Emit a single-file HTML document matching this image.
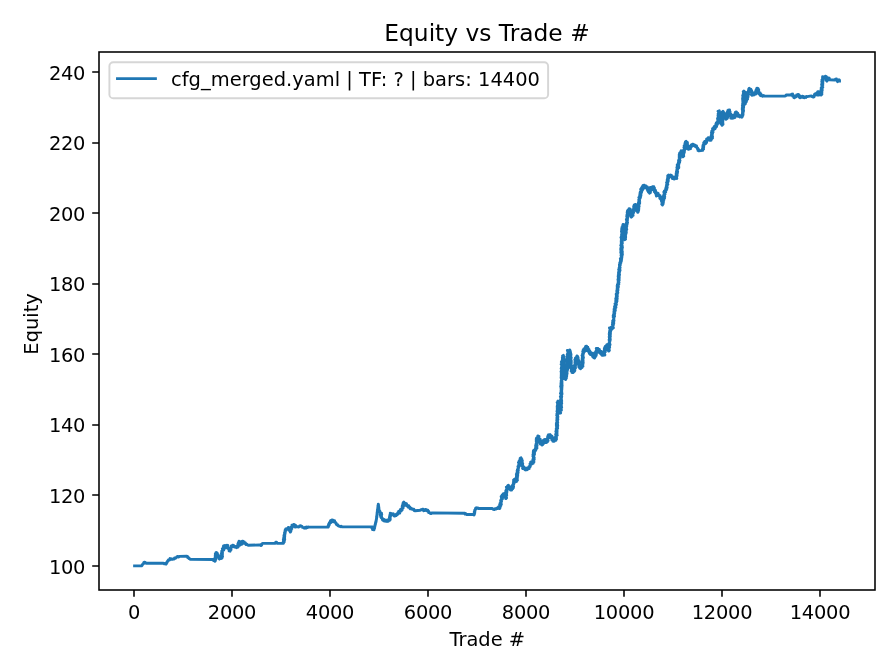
<!DOCTYPE html>
<html lang="en"><head><meta charset="utf-8"><title>Equity vs Trade #</title>
<style>html,body{margin:0;padding:0;background:#fff;}body{width:896px;height:672px;overflow:hidden;}svg{display:block;}text{font-family:"DejaVu Sans","Liberation Sans",sans-serif;fill:#000;}</style></head><body>
<svg width="896" height="672" viewBox="0 0 896 672">
<rect x="0" y="0" width="896" height="672" fill="#ffffff"/>
<path d="M134.6,565.9 L141.4,565.9 L142.1,565.5 L142.3,564.6 L143.0,564.2 L143.6,563.7 L143.7,562.8 L144.2,562.2 L145.2,562.5 L146.2,563.2 L163.4,563.2 L164.2,563.8 L165.2,563.5 L166.0,564.1 L166.5,563.5 L166.5,562.7 L167.2,562.2 L167.2,561.4 L168.0,560.9 L168.2,560.2 L168.8,559.6 L169.7,559.9 L170.0,558.6 L170.9,558.8 L171.6,559.3 L172.5,559.4 L173.1,558.9 L174.1,559.0 L174.5,558.0 L175.6,558.3 L176.2,557.7 L176.8,556.8 L177.8,556.4 L178.6,556.9 L179.4,556.4 L186.9,556.2 L187.6,556.6 L187.7,557.6 L188.7,557.6 L188.9,558.5 L189.7,558.7 L190.1,559.4 L213.4,559.5 L213.4,560.6 L215.4,559.9 L215.0,561.3 L215.4,560.6 L214.7,559.8 L215.8,559.2 L214.9,558.3 L215.9,557.7 L215.2,556.9 L215.8,556.2 L215.3,555.4 L216.3,554.8 L215.4,553.9 L216.3,553.3 L216.0,552.5 L217.1,552.8 L216.0,554.2 L217.6,554.2 L216.4,555.7 L218.5,555.4 L217.5,556.8 L219.1,556.8 L218.7,557.9 L219.4,559.1 L220.8,556.8 L221.4,558.4 L222.1,557.8 L221.2,556.9 L222.5,556.3 L221.5,555.4 L222.4,554.8 L221.3,553.9 L222.4,553.4 L221.7,552.5 L222.6,551.9 L221.8,551.0 L222.5,550.4 L223.7,550.1 L222.4,548.7 L224.3,548.7 L223.2,547.4 L224.8,547.2 L223.6,545.9 L224.6,545.5 L224.7,546.8 L226.3,545.2 L225.9,547.7 L227.8,545.4 L227.8,547.1 L227.7,548.1 L229.2,548.1 L228.7,549.3 L230.0,549.5 L229.2,550.9 L230.2,551.2 L229.8,550.3 L231.0,549.7 L230.4,548.7 L231.2,548.0 L231.0,547.1 L231.3,546.0 L232.5,546.6 L232.7,545.3 L233.7,545.5 L233.8,546.6 L234.8,547.1 L235.6,546.6 L236.4,547.6 L237.2,546.0 L238.0,547.1 L238.4,546.4 L237.9,545.6 L238.8,545.0 L237.9,544.1 L238.9,543.5 L238.4,542.6 L239.4,542.1 L239.1,541.2 L240.2,541.8 L238.6,543.0 L240.6,543.3 L239.4,544.4 L240.1,545.0 L239.8,543.9 L241.7,544.2 L240.4,542.3 L243.1,543.3 L241.9,541.5 L242.8,541.2 L243.0,542.1 L244.2,542.0 L244.1,543.2 L245.4,542.9 L245.5,543.9 L246.0,544.5 L247.0,544.3 L247.5,545.0 L248.2,545.2 L259.4,545.0 L260.3,545.0 L261.0,545.5 L261.7,545.0 L261.8,543.9 L262.6,543.4 L274.4,543.2 L275.3,543.3 L275.7,542.3 L276.6,542.3 L276.9,543.1 L277.6,543.4 L283.5,543.2 L283.1,542.4 L284.2,541.8 L283.5,541.0 L284.5,540.4 L283.4,539.6 L284.7,539.0 L283.6,538.1 L284.6,537.6 L284.0,536.7 L284.7,536.1 L284.0,535.3 L284.9,534.7 L284.5,533.9 L285.1,533.3 L284.6,532.5 L285.4,531.9 L285.1,531.1 L285.1,530.2 L286.3,530.2 L285.8,528.9 L286.8,528.7 L287.8,529.1 L288.3,527.4 L289.4,528.1 L289.3,529.0 L290.5,529.5 L289.4,530.6 L290.4,531.2 L290.3,532.1 L290.8,531.4 L290.3,530.5 L291.2,529.9 L290.8,529.0 L291.8,528.5 L290.7,527.4 L291.6,526.8 L292.7,526.7 L292.0,525.1 L293.5,525.3 L293.7,524.4 L294.5,524.6 L294.4,525.8 L295.7,525.5 L295.2,527.0 L296.4,526.8 L297.3,526.6 L298.2,527.0 L299.1,526.8 L299.6,525.9 L300.7,525.7 L301.2,526.4 L302.1,526.5 L302.5,527.4 L303.4,527.4 L304.0,528.0 L304.8,528.2 L305.3,527.3 L306.2,528.0 L306.7,527.1 L307.5,527.6 L308.2,527.0 L308.9,527.1 L328.1,527.1 L328.5,526.5 L328.2,525.6 L329.1,525.2 L328.6,524.2 L329.5,523.8 L329.3,522.9 L329.8,522.3 L330.9,522.6 L330.5,520.7 L332.2,521.8 L331.9,519.9 L333.0,520.2 L333.0,521.3 L334.6,520.7 L334.3,522.1 L335.1,522.3 L336.0,522.8 L336.2,523.9 L336.7,524.7 L337.7,524.8 L338.1,525.7 L338.9,526.1 L339.8,526.1 L340.4,526.7 L341.4,526.3 L342.1,526.9 L372.6,526.9 L371.9,528.1 L374.0,528.0 L372.6,529.6 L374.0,529.8 L374.0,529.0 L374.5,528.4 L374.4,527.6 L374.8,526.9 L374.8,526.1 L375.1,525.4 L375.1,524.7 L375.5,524.0 L375.4,523.2 L375.9,522.5 L375.8,521.8 L376.2,521.1 L376.1,520.3 L376.4,519.6 L376.5,518.9 L376.5,518.2 L376.8,517.5 L376.6,516.8 L377.0,516.1 L376.8,515.4 L377.1,514.7 L377.0,513.9 L377.3,513.3 L377.1,512.5 L377.5,511.9 L377.3,511.1 L377.6,510.5 L377.5,509.7 L377.8,509.0 L377.7,508.3 L377.9,507.6 L377.9,506.9 L378.2,506.2 L378.0,505.5 L378.3,504.8 L378.3,504.1 L378.5,504.8 L378.3,505.6 L378.7,506.3 L378.6,507.1 L378.9,507.8 L378.8,508.6 L379.1,509.3 L378.9,510.1 L379.2,510.8 L379.9,511.3 L380.0,512.1 L380.6,512.6 L381.5,513.2 L380.3,514.2 L381.7,514.7 L380.4,515.7 L381.5,516.3 L380.9,517.1 L381.4,517.8 L382.4,518.3 L382.3,519.4 L382.8,520.2 L384.1,519.5 L384.3,521.0 L385.5,520.3 L386.0,521.2 L386.9,521.4 L387.3,519.9 L388.4,521.1 L388.8,519.8 L389.8,520.2 L390.2,519.5 L389.4,518.8 L390.2,518.1 L389.5,517.4 L390.4,516.7 L389.7,516.0 L390.5,515.3 L390.0,514.6 L390.6,513.9 L390.3,513.2 L391.0,513.9 L391.8,513.7 L392.2,514.8 L393.3,513.8 L393.6,515.0 L394.2,516.1 L395.0,516.0 L395.2,515.0 L396.3,515.5 L396.4,514.2 L397.5,514.6 L397.9,513.9 L397.8,512.7 L399.7,513.2 L398.7,511.2 L400.1,511.2 L401.0,511.1 L400.5,509.5 L402.1,510.1 L402.2,509.1 L402.0,508.3 L403.1,507.8 L402.2,506.9 L403.3,506.4 L402.4,505.5 L403.8,505.0 L402.9,504.1 L404.0,503.6 L403.2,502.7 L403.8,502.1 L403.6,503.1 L405.3,503.2 L404.9,504.3 L405.4,505.3 L406.5,503.8 L407.0,504.8 L407.1,505.8 L408.7,505.6 L408.1,507.1 L409.7,506.9 L409.7,508.0 L410.3,508.8 L411.4,508.3 L412.0,509.2 L412.9,509.1 L413.9,509.3 L414.1,510.5 L415.1,510.7 L420.4,510.2 L421.0,509.7 L421.8,509.8 L422.3,509.1 L423.1,509.1 L423.2,509.9 L423.6,510.7 L424.2,510.1 L425.0,510.4 L425.4,509.4 L426.3,509.6 L426.5,510.5 L427.8,510.3 L427.8,511.4 L428.8,511.4 L428.7,512.6 L429.7,512.7 L430.1,513.4 L431.0,513.6 L431.7,512.9 L463.8,513.2 L464.7,513.1 L465.1,514.1 L466.0,513.8 L466.5,514.5 L472.9,514.5 L474.0,515.0 L474.4,514.3 L474.1,513.4 L474.8,512.8 L474.3,511.8 L474.9,511.2 L474.7,510.3 L475.1,509.6 L475.8,509.2 L475.6,508.2 L476.3,507.8 L476.9,508.3 L477.8,507.9 L478.4,508.5 L492.4,508.5 L493.4,509.4 L494.3,509.6 L494.9,508.8 L495.8,509.1 L496.4,508.2 L497.2,508.3 L498.1,508.5 L498.4,507.0 L499.8,508.5 L500.1,507.2 L499.7,506.4 L500.7,505.8 L499.7,504.8 L501.3,504.3 L500.0,503.3 L501.2,502.8 L500.7,501.9 L501.5,501.2 L500.7,500.3 L501.5,499.7 L502.3,499.1 L501.4,498.1 L502.8,497.7 L501.2,496.5 L503.5,496.3 L502.1,495.1 L503.4,494.7 L503.1,493.8 L504.7,493.3 L503.4,495.7 L504.7,495.4 L505.9,495.9 L504.8,497.1 L505.9,497.7 L505.8,498.6 L506.5,497.9 L505.4,497.1 L506.3,496.4 L505.3,495.6 L506.7,495.0 L505.5,494.1 L506.6,493.5 L505.7,492.6 L506.8,492.0 L505.8,491.1 L507.1,490.5 L506.3,489.7 L506.8,489.0 L507.9,488.6 L506.4,487.1 L508.3,487.0 L507.6,485.8 L508.4,485.2 L508.0,486.3 L509.6,486.5 L508.9,487.7 L510.1,488.1 L510.0,489.0 L510.5,490.0 L511.6,490.1 L511.3,489.3 L512.6,488.9 L511.6,487.9 L513.4,487.7 L512.0,486.5 L513.6,486.3 L512.5,485.2 L513.2,484.7 L513.8,484.0 L513.3,483.1 L514.1,482.5 L513.6,481.6 L514.6,481.0 L513.6,480.0 L514.3,479.4 L514.4,480.4 L516.1,479.7 L514.9,482.1 L516.5,481.5 L516.3,480.7 L517.4,480.1 L516.2,479.2 L517.3,478.6 L516.2,477.7 L517.4,477.1 L516.5,476.3 L517.7,475.7 L516.4,474.8 L517.7,474.2 L516.6,473.3 L518.1,472.7 L517.5,471.9 L517.1,471.0 L518.3,470.5 L517.5,469.6 L518.4,469.0 L518.0,468.1 L518.7,467.5 L518.0,466.5 L519.2,466.0 L518.6,465.1 L519.1,464.4 L519.7,463.8 L518.5,462.6 L520.8,462.6 L519.1,461.2 L520.8,461.0 L519.9,459.9 L521.2,459.5 L520.2,458.4 L521.1,457.9 L520.9,458.7 L521.8,459.3 L521.0,460.1 L522.3,460.7 L520.9,461.6 L522.3,462.1 L521.5,463.0 L522.7,463.5 L521.7,464.4 L522.6,465.0 L522.0,465.8 L522.4,466.5 L523.7,466.6 L522.6,468.5 L524.8,467.9 L524.5,469.2 L525.3,469.9 L526.1,468.1 L526.9,469.7 L527.7,469.2 L527.7,468.1 L529.2,468.5 L528.7,466.9 L529.9,467.0 L530.3,466.2 L529.9,465.4 L530.7,464.7 L530.1,463.7 L531.1,463.1 L530.7,462.2 L532.0,461.6 L531.7,464.1 L533.1,463.3 L532.5,462.5 L533.9,461.9 L532.5,461.1 L533.8,460.5 L532.9,459.7 L534.2,459.1 L533.2,458.3 L534.2,457.7 L533.6,456.9 L533.0,456.2 L534.0,455.5 L533.0,454.7 L534.5,454.2 L533.3,453.4 L534.6,452.7 L533.3,452.0 L534.3,451.3 L533.5,450.6 L534.1,449.9 L535.4,450.7 L536.1,449.4 L535.5,448.6 L536.9,448.0 L535.6,447.1 L536.9,446.5 L535.7,445.6 L537.1,445.0 L535.9,444.2 L537.0,443.5 L536.4,442.7 L537.0,442.1 L536.3,441.2 L537.2,440.6 L536.2,439.8 L537.5,439.1 L536.4,438.3 L537.1,437.6 L538.3,437.2 L537.9,436.0 L539.0,436.3 L537.7,437.7 L539.1,437.9 L538.0,439.1 L540.2,439.1 L538.8,440.4 L539.8,440.8 L540.9,441.1 L539.7,442.7 L541.3,442.8 L540.4,444.1 L542.2,444.1 L542.0,445.1 L542.7,444.6 L542.0,443.5 L543.7,443.4 L542.5,442.2 L544.2,442.1 L542.5,440.6 L544.6,440.7 L544.1,439.7 L545.3,439.4 L544.8,441.4 L546.7,440.0 L545.9,442.6 L547.3,441.9 L546.9,441.1 L548.1,440.6 L547.4,439.8 L548.0,439.1 L547.5,438.3 L548.6,437.8 L547.7,436.9 L548.7,436.4 L548.0,435.6 L548.4,434.9 L549.0,435.5 L550.0,434.6 L550.5,435.4 L550.0,436.5 L552.0,436.3 L550.6,437.7 L552.3,437.7 L552.1,438.6 L551.8,439.9 L554.0,439.3 L553.0,441.3 L554.3,441.3 L554.2,440.4 L555.9,440.4 L554.7,439.0 L556.6,439.0 L554.7,437.4 L556.5,437.3 L556.4,436.5 L555.9,435.8 L557.2,435.1 L555.7,434.3 L557.0,433.7 L556.2,433.0 L557.0,432.3 L555.9,431.5 L557.1,430.9 L556.2,430.1 L557.1,429.5 L556.3,428.7 L557.6,428.1 L556.6,427.3 L557.6,426.7 L556.4,425.9 L557.7,425.3 L556.4,424.5 L557.5,423.9 L556.4,423.1 L557.7,422.5 L556.9,421.7 L557.5,421.0 L556.8,420.3 L557.8,419.6 L556.9,418.9 L557.7,418.2 L557.0,417.5 L557.9,416.8 L557.5,416.1 L556.8,415.4 L557.8,414.7 L556.9,413.9 L558.3,413.3 L557.3,412.5 L558.4,411.8 L557.0,411.1 L558.4,410.4 L557.3,409.7 L558.2,409.0 L557.3,408.2 L558.6,407.6 L557.2,406.8 L558.3,406.1 L557.4,405.4 L558.3,404.7 L557.6,403.9 L558.2,403.3 L557.2,402.5 L558.4,401.8 L558.0,401.1 L558.8,401.8 L557.8,402.6 L558.6,403.3 L557.7,404.1 L558.7,404.8 L558.0,405.6 L559.3,406.2 L557.8,407.1 L559.3,407.7 L558.1,408.5 L559.5,409.1 L558.1,410.0 L559.4,410.6 L558.3,411.5 L559.3,412.1 L559.1,412.9 L560.7,413.0 L559.4,410.9 L560.7,410.8 L561.4,410.1 L560.1,409.4 L561.2,408.7 L560.5,408.0 L561.6,407.3 L560.5,406.6 L561.4,405.9 L560.5,405.2 L561.3,404.5 L560.3,403.8 L561.7,403.1 L560.6,402.4 L561.6,401.7 L560.6,401.0 L561.6,400.3 L560.6,399.6 L561.4,398.9 L560.8,398.2 L561.5,397.5 L560.4,396.8 L561.7,396.1 L560.9,395.4 L561.2,394.7 L562.0,394.0 L560.5,393.3 L561.8,392.6 L561.0,391.9 L561.7,391.2 L561.1,390.5 L561.8,389.8 L561.1,389.1 L561.8,388.4 L561.0,387.7 L562.0,387.0 L560.7,386.3 L562.1,385.6 L561.0,384.9 L562.0,384.2 L561.0,383.5 L562.0,382.8 L561.1,382.1 L561.9,381.4 L561.2,380.7 L561.6,380.0 L562.4,379.3 L561.3,378.6 L562.2,377.9 L561.1,377.1 L562.4,376.5 L561.3,375.7 L562.1,375.0 L561.3,374.3 L562.2,373.6 L561.3,372.9 L562.6,372.2 L561.1,371.4 L562.5,370.8 L561.6,370.0 L562.1,369.3 L561.2,368.6 L562.6,367.9 L561.4,367.2 L562.5,366.5 L561.7,365.7 L562.4,365.0 L561.2,364.3 L562.7,363.6 L562.0,362.9 L561.4,362.0 L563.1,361.5 L562.0,360.6 L562.9,360.0 L562.4,359.1 L563.4,358.5 L562.4,357.5 L563.9,357.0 L562.6,356.0 L563.4,355.4 L562.8,356.2 L564.2,356.8 L563.0,357.6 L564.1,358.3 L563.3,359.1 L564.3,359.7 L563.3,360.5 L564.5,361.2 L563.2,362.0 L564.3,362.7 L563.6,363.5 L564.3,364.2 L563.4,364.9 L564.6,365.6 L563.7,366.4 L564.1,367.1 L564.5,367.8 L563.8,368.6 L564.9,369.2 L564.0,370.1 L564.9,370.7 L564.1,371.6 L565.0,372.2 L564.4,373.0 L565.4,373.6 L564.3,374.5 L565.7,375.0 L564.5,375.9 L565.8,376.5 L565.0,377.4 L565.9,378.0 L564.8,378.9 L565.7,379.5 L565.2,378.7 L566.3,378.1 L565.7,377.3 L566.6,376.6 L565.6,375.8 L566.7,375.2 L566.0,374.3 L567.1,373.7 L565.8,372.8 L567.0,372.3 L566.5,371.4 L567.3,370.8 L566.4,370.0 L567.6,369.4 L566.8,368.5 L567.9,367.9 L567.3,367.1 L566.7,366.4 L567.9,365.7 L567.1,364.9 L568.2,364.3 L567.1,363.5 L568.2,362.9 L567.2,362.1 L568.0,361.4 L567.0,360.6 L568.1,360.0 L566.9,359.2 L568.3,358.6 L567.4,357.8 L568.2,357.1 L567.4,356.4 L568.5,355.7 L567.2,354.9 L568.3,354.3 L567.6,353.5 L568.4,352.8 L568.1,352.1 L567.4,350.4 L569.7,351.1 L569.8,350.0 L570.1,350.7 L569.6,351.5 L570.5,352.1 L569.3,352.9 L570.8,353.5 L569.5,354.3 L571.0,354.9 L569.5,355.8 L570.8,356.4 L570.1,357.2 L571.2,357.8 L569.9,358.6 L570.9,359.3 L570.1,360.1 L571.2,360.7 L570.3,361.5 L571.3,362.1 L570.6,362.9 L571.2,363.5 L570.6,364.3 L571.1,365.0 L571.6,365.7 L570.5,366.6 L571.7,367.2 L570.7,368.1 L572.0,368.7 L571.3,369.6 L572.5,370.2 L571.2,371.1 L572.5,371.7 L572.1,372.5 L573.1,372.6 L573.1,370.9 L574.3,371.4 L574.8,370.7 L573.7,369.9 L574.9,369.2 L574.2,368.4 L575.5,367.8 L574.5,367.0 L575.4,366.3 L574.3,365.5 L575.7,364.9 L574.9,364.1 L575.5,363.4 L575.0,362.6 L576.1,362.0 L575.1,361.1 L576.2,360.5 L574.9,359.6 L576.2,359.0 L575.4,358.2 L575.9,357.5 L577.7,357.6 L577.0,355.9 L577.7,356.5 L576.9,357.4 L578.1,357.9 L577.2,358.8 L578.2,359.3 L577.7,360.2 L578.8,360.7 L577.5,361.7 L579.0,362.1 L578.6,362.9 L577.8,364.0 L579.5,364.2 L578.9,365.3 L580.4,365.6 L578.8,366.9 L581.3,366.9 L579.8,368.3 L580.7,368.8 L580.5,367.8 L582.0,367.5 L580.9,366.2 L583.0,366.2 L582.3,365.0 L582.0,364.2 L583.1,363.6 L581.8,362.8 L583.2,362.1 L581.8,361.3 L583.1,360.6 L582.1,359.8 L583.0,359.1 L582.2,358.3 L583.4,357.7 L582.4,356.9 L583.1,356.2 L582.1,355.4 L583.2,354.7 L582.6,353.9 L582.9,353.2 L583.6,352.8 L582.8,351.5 L584.5,351.6 L583.2,350.1 L585.6,350.6 L583.9,348.8 L585.8,349.1 L585.2,347.9 L586.3,347.7 L585.6,346.5 L586.6,346.2 L586.1,347.3 L587.8,347.3 L587.1,348.4 L588.4,348.6 L587.4,349.8 L589.1,349.8 L587.9,351.2 L589.9,351.1 L589.3,352.1 L589.3,353.5 L590.9,352.5 L590.4,354.6 L592.3,353.2 L592.5,354.3 L592.1,355.3 L593.8,355.2 L592.7,356.6 L594.4,356.5 L593.7,357.7 L594.6,358.0 L594.2,357.1 L595.5,356.7 L594.1,355.5 L596.2,355.3 L595.0,354.2 L596.5,353.8 L594.8,352.6 L597.0,352.4 L595.9,351.3 L597.6,351.0 L596.8,350.0 L596.3,348.5 L597.9,348.4 L597.2,350.1 L599.4,349.4 L598.7,351.1 L600.0,351.1 L601.3,351.4 L599.7,353.0 L602.1,352.8 L601.0,354.1 L602.3,354.4 L602.1,355.4 L603.1,355.3 L602.7,353.8 L604.9,354.9 L604.3,353.2 L603.8,352.4 L605.3,351.9 L604.2,351.0 L605.5,350.5 L604.4,349.6 L605.3,349.1 L604.4,348.2 L605.9,347.8 L605.0,346.9 L605.4,346.2 L606.5,347.2 L606.9,344.7 L608.0,345.7 L607.7,346.5 L608.6,347.2 L607.9,348.1 L608.7,348.7 L608.0,349.6 L609.1,350.3 L608.6,351.1 L609.3,350.4 L608.4,349.6 L609.1,348.9 L608.5,348.1 L609.6,347.4 L608.7,346.6 L609.6,345.9 L608.9,345.1 L610.0,344.5 L608.8,343.6 L609.7,342.9 L609.2,342.1 L609.6,341.4 L610.1,340.7 L609.1,339.9 L610.3,339.2 L609.5,338.4 L610.1,337.7 L609.2,336.9 L610.3,336.3 L609.5,335.5 L610.4,334.8 L609.2,334.0 L610.4,333.3 L609.5,332.5 L610.5,331.8 L609.6,331.1 L610.9,330.4 L610.2,329.6 L609.5,327.9 L612.0,328.9 L611.3,327.2 L613.4,327.9 L612.9,326.4 L612.6,325.6 L613.3,324.9 L612.4,324.1 L613.7,323.4 L612.6,322.6 L613.8,321.9 L612.7,321.0 L614.0,320.4 L613.3,319.6 L613.9,318.9 L613.8,318.1 L613.3,317.3 L614.5,316.6 L613.2,315.8 L614.4,315.1 L613.6,314.3 L614.7,313.6 L614.3,312.8 L613.9,312.0 L614.9,311.5 L614.2,310.7 L615.3,310.1 L614.1,309.2 L615.3,308.7 L614.6,307.9 L615.9,307.4 L614.6,306.4 L615.8,305.9 L615.2,305.1 L616.4,304.6 L615.0,303.7 L615.9,303.1 L616.5,302.4 L615.8,301.6 L616.9,301.0 L615.8,300.1 L617.1,299.5 L615.8,298.6 L617.2,298.0 L616.2,297.2 L617.3,296.5 L616.4,295.7 L617.3,295.0 L616.2,294.2 L617.0,293.5 L617.8,292.8 L616.8,292.0 L617.6,291.3 L616.9,290.5 L618.0,289.9 L617.1,289.0 L617.9,288.4 L617.3,287.6 L618.4,286.9 L617.1,286.0 L618.2,285.4 L617.5,284.6 L618.8,284.0 L618.0,283.1 L619.0,282.5 L618.4,281.7 L618.1,281.0 L619.1,280.3 L618.0,279.5 L619.2,278.9 L618.3,278.1 L619.2,277.5 L618.2,276.7 L619.3,276.0 L618.3,275.2 L619.5,274.6 L618.5,273.8 L619.3,273.1 L618.6,272.4 L619.7,271.7 L618.9,271.0 L620.0,270.3 L618.7,269.5 L619.9,268.9 L619.1,268.1 L620.1,267.5 L619.6,266.7 L619.4,265.9 L620.2,265.3 L619.5,264.5 L620.4,263.9 L619.8,263.0 L620.9,262.5 L620.3,261.7 L621.3,261.1 L620.5,260.2 L621.6,259.7 L620.4,258.7 L621.7,258.2 L621.1,257.4 L622.0,256.8 L621.6,256.0 L621.1,255.3 L622.4,254.6 L621.3,253.9 L622.3,253.2 L620.8,252.5 L622.3,251.7 L620.9,251.0 L622.0,250.3 L620.8,249.6 L622.1,248.9 L620.8,248.2 L622.4,247.5 L621.3,246.8 L622.3,246.1 L620.8,245.4 L621.9,244.7 L621.2,244.0 L622.3,243.2 L621.3,242.5 L622.3,241.8 L621.2,241.1 L622.3,240.4 L621.6,239.7 L621.3,238.9 L622.2,238.3 L621.0,237.4 L622.2,236.8 L621.5,236.0 L622.5,235.4 L621.6,234.5 L622.3,233.9 L621.8,233.1 L622.5,232.4 L621.5,231.6 L622.9,231.0 L621.6,230.1 L622.8,229.5 L621.8,228.7 L622.8,228.0 L622.0,227.2 L623.2,226.6 L622.7,225.8 L623.0,224.5 L624.3,224.7 L623.6,225.4 L624.9,226.1 L623.8,226.9 L625.1,227.5 L624.1,228.3 L625.2,229.0 L623.9,229.7 L625.0,230.4 L623.8,231.2 L624.9,231.8 L623.8,232.6 L625.2,233.3 L624.2,234.0 L625.3,234.7 L624.2,235.4 L625.0,236.1 L624.0,236.9 L625.0,237.5 L624.1,238.3 L625.2,239.0 L624.8,239.7 L625.5,239.1 L624.2,238.2 L625.6,237.7 L624.5,236.8 L625.6,236.3 L625.1,235.5 L625.7,234.8 L625.1,234.1 L626.1,233.5 L625.2,232.6 L626.3,232.1 L625.1,231.2 L626.2,230.6 L625.6,229.9 L626.7,229.3 L625.9,228.5 L626.5,227.8 L625.9,227.0 L626.7,226.4 L626.0,225.6 L626.9,225.0 L626.1,224.2 L627.3,223.7 L626.5,222.9 L627.5,222.3 L627.0,221.5 L626.6,220.8 L627.4,220.1 L626.4,219.3 L627.6,218.7 L627.0,218.0 L627.7,217.3 L626.8,216.5 L628.2,215.9 L626.9,215.1 L628.1,214.5 L627.3,213.7 L628.0,213.1 L627.2,212.3 L628.4,211.7 L627.5,210.9 L628.0,210.2 L629.3,211.0 L629.0,208.7 L630.2,209.2 L629.5,210.0 L631.0,210.6 L630.1,211.4 L631.3,212.0 L630.4,212.9 L631.3,213.5 L630.4,214.4 L631.3,215.0 L630.8,215.8 L631.8,216.4 L631.2,217.2 L631.9,216.6 L630.9,215.5 L633.1,215.4 L631.7,214.2 L633.0,213.8 L631.9,212.7 L633.7,212.5 L632.3,211.2 L633.4,210.8 L634.6,210.4 L633.4,209.2 L634.7,208.9 L633.7,207.8 L635.0,207.4 L633.7,206.2 L636.0,206.1 L634.3,204.8 L635.5,204.4 L635.3,205.2 L636.9,205.6 L635.1,206.8 L637.0,207.1 L635.5,208.3 L637.4,208.6 L636.4,209.6 L637.5,210.1 L636.8,211.1 L637.9,211.6 L637.7,212.4 L638.2,211.7 L637.2,210.9 L638.6,210.4 L637.3,209.5 L638.8,208.9 L637.8,208.1 L638.8,207.5 L637.9,206.7 L639.1,206.1 L638.0,205.3 L639.0,204.7 L638.1,203.9 L639.6,203.3 L638.5,202.5 L639.7,201.9 L638.8,201.1 L639.5,200.5 L638.8,199.7 L639.3,199.0 L640.1,198.4 L638.9,197.4 L640.5,197.0 L639.6,196.0 L640.9,195.6 L639.9,194.6 L640.9,194.1 L640.0,193.1 L641.5,192.7 L640.4,191.7 L641.8,191.3 L641.4,190.4 L640.7,189.2 L642.8,189.5 L641.6,187.9 L643.7,188.3 L642.3,186.6 L644.2,186.9 L643.1,185.4 L644.3,185.2 L644.0,186.6 L646.0,185.9 L645.4,187.6 L647.4,187.0 L647.0,188.4 L647.0,189.3 L648.7,189.2 L647.7,190.7 L648.8,191.0 L648.5,192.0 L650.2,192.0 L649.6,193.2 L650.4,192.6 L649.5,191.6 L650.5,191.1 L649.9,190.2 L651.4,189.9 L650.7,188.9 L650.3,187.5 L652.8,188.3 L652.3,186.8 L653.8,186.7 L652.7,188.4 L654.5,188.1 L653.4,189.8 L654.5,190.0 L655.5,190.4 L654.3,191.7 L656.1,191.9 L655.3,193.0 L656.6,193.3 L656.1,194.3 L656.4,196.0 L658.2,193.4 L658.3,195.7 L659.3,195.4 L660.1,195.7 L659.7,196.9 L660.8,197.0 L659.9,198.4 L662.1,197.8 L660.9,199.5 L662.0,199.6 L662.8,200.3 L661.5,201.2 L662.6,201.9 L662.0,202.7 L662.7,203.4 L661.8,204.3 L662.5,205.0 L662.3,204.2 L663.2,203.7 L662.4,202.8 L663.3,202.3 L662.7,201.5 L663.6,200.9 L662.7,200.0 L663.9,199.5 L663.2,198.7 L664.5,198.2 L663.3,197.3 L664.7,196.8 L663.5,195.9 L664.5,195.3 L663.9,194.5 L665.0,194.0 L664.6,193.2 L663.9,192.1 L665.8,192.1 L664.5,190.8 L665.7,190.5 L666.4,189.9 L665.7,189.0 L666.9,188.6 L666.0,187.7 L667.2,187.2 L666.3,186.3 L667.1,185.7 L666.6,184.9 L667.8,184.4 L667.3,183.6 L666.6,182.8 L667.8,182.2 L667.1,181.4 L668.3,180.8 L667.2,179.9 L668.3,179.4 L667.6,178.5 L668.7,177.9 L667.7,177.0 L668.9,176.5 L667.8,175.6 L668.7,175.0 L669.6,175.8 L670.5,175.0 L671.4,175.4 L670.5,176.8 L672.4,176.6 L672.1,177.7 L672.5,178.5 L673.9,177.1 L673.9,179.0 L674.8,178.8 L674.4,177.2 L676.8,178.5 L676.4,177.1 L675.8,176.3 L677.1,175.6 L676.1,174.8 L677.1,174.1 L676.2,173.3 L677.5,172.7 L676.5,171.8 L677.6,171.2 L676.7,170.3 L677.0,169.6 L677.8,169.0 L676.9,167.9 L678.8,167.7 L677.2,166.3 L678.8,166.0 L677.3,164.7 L678.6,164.3 L679.1,163.6 L678.4,162.7 L679.6,162.1 L678.5,161.1 L680.0,160.6 L678.9,159.6 L679.6,158.9 L680.1,158.2 L679.3,157.4 L680.1,156.8 L679.2,156.0 L680.5,155.4 L679.3,154.6 L680.4,154.0 L679.6,153.2 L680.2,152.5 L681.5,153.3 L681.1,150.8 L682.3,151.4 L682.1,152.2 L683.0,152.9 L681.8,153.8 L683.0,154.4 L682.4,155.3 L683.2,156.0 L682.9,156.8 L683.7,156.2 L682.5,155.2 L683.6,154.7 L683.1,153.9 L683.9,153.3 L683.3,152.4 L684.4,151.9 L683.6,151.0 L684.5,150.4 L683.9,149.6 L685.1,149.1 L684.5,148.2 L684.0,147.4 L685.1,146.9 L684.2,145.9 L685.4,145.5 L684.9,144.6 L686.2,144.2 L685.0,143.2 L686.4,142.8 L685.5,141.8 L686.1,141.2 L685.8,142.1 L687.4,142.4 L686.3,143.5 L687.5,143.9 L686.6,144.9 L687.9,145.3 L687.7,146.1 L687.3,147.1 L689.2,147.4 L687.6,148.8 L688.8,149.3 L688.3,148.1 L690.6,148.7 L689.2,146.8 L691.0,147.1 L690.9,146.1 L691.2,145.0 L692.6,145.9 L692.4,144.1 L693.6,144.5 L693.8,145.6 L695.2,145.2 L695.2,146.5 L696.6,146.1 L696.8,147.1 L696.9,147.9 L697.7,148.2 L697.5,149.2 L698.6,149.4 L698.1,150.5 L698.9,150.9 L702.7,150.4 L702.3,149.6 L703.5,149.0 L702.6,148.2 L703.6,147.6 L702.9,146.7 L703.7,146.1 L703.0,145.3 L703.9,144.7 L703.8,143.9 L703.7,142.8 L705.6,143.7 L704.6,141.5 L706.6,142.6 L706.4,141.3 L706.2,140.4 L707.7,140.2 L706.7,138.9 L708.5,138.9 L708.0,137.8 L709.2,137.8 L708.0,139.8 L710.7,138.7 L710.0,140.3 L711.1,140.3 L710.4,138.3 L711.8,138.7 L712.5,138.0 L711.4,137.2 L712.5,136.5 L711.2,135.7 L712.3,135.0 L711.5,134.2 L712.5,133.5 L711.5,132.7 L713.0,132.0 L711.7,131.2 L712.3,130.5 L713.3,130.4 L712.6,128.7 L713.9,129.0 L715.0,128.8 L713.8,127.3 L715.7,127.6 L714.6,126.1 L716.6,126.5 L716.1,125.3 L715.8,124.2 L717.5,124.4 L716.4,122.7 L718.2,123.0 L718.2,122.1 L717.6,121.3 L718.7,120.6 L717.7,119.8 L718.7,119.1 L717.6,118.3 L718.9,117.6 L718.2,116.9 L718.9,116.2 L718.1,115.4 L718.9,114.7 L718.2,113.9 L719.2,113.2 L718.8,112.4 L718.1,111.3 L719.3,110.8 L719.0,111.6 L719.9,112.2 L719.2,113.1 L720.4,113.7 L719.0,114.6 L720.4,115.1 L719.6,116.0 L720.8,116.6 L719.7,117.5 L720.7,118.1 L720.4,118.9 L720.1,119.7 L721.7,120.1 L719.9,121.3 L722.0,121.5 L720.5,122.6 L722.3,123.0 L721.1,124.0 L723.0,124.3 L722.0,125.3 L722.5,124.6 L721.5,123.8 L722.9,123.2 L721.5,122.3 L722.8,121.7 L721.9,120.9 L722.9,120.2 L722.1,119.4 L723.2,118.8 L722.1,118.0 L723.3,117.3 L722.2,116.5 L723.1,115.8 L722.3,115.0 L723.3,114.4 L722.5,113.6 L723.1,112.9 L722.3,112.1 L723.0,111.4 L722.7,112.3 L724.1,112.7 L723.2,113.8 L724.8,114.1 L723.7,115.3 L725.5,115.5 L724.1,116.8 L725.2,117.2 L726.3,116.8 L725.9,119.3 L727.3,118.3 L726.6,117.5 L727.7,116.9 L726.8,116.1 L728.3,115.4 L726.9,114.6 L728.0,114.0 L727.0,113.2 L728.3,112.5 L727.5,111.7 L728.1,111.0 L727.9,110.3 L729.6,110.0 L728.0,112.4 L730.1,111.8 L730.0,113.0 L729.8,113.8 L731.0,114.1 L730.3,115.2 L732.0,115.3 L730.7,116.6 L732.0,116.8 L730.8,118.1 L732.1,118.3 L731.8,116.8 L733.6,117.9 L732.8,115.8 L735.0,117.4 L734.0,115.0 L735.4,115.6 L736.4,115.1 L734.9,113.9 L736.8,113.6 L735.3,112.4 L736.4,111.9 L736.3,112.8 L737.7,113.1 L736.6,114.3 L738.2,114.5 L737.2,115.7 L738.0,116.2 L738.3,114.5 L739.6,115.6 L739.7,117.0 L741.5,116.1 L741.8,117.2 L742.3,116.6 L741.8,115.8 L742.8,115.3 L742.2,114.4 L743.1,113.9 L742.4,113.0 L742.9,112.4 L743.4,111.7 L742.4,111.0 L743.5,110.3 L742.3,109.5 L743.3,108.8 L742.3,108.1 L743.6,107.4 L742.5,106.7 L743.7,106.0 L742.4,105.2 L743.6,104.6 L742.7,103.8 L744.0,103.1 L742.9,102.4 L743.9,101.7 L742.7,101.0 L743.6,100.3 L742.7,99.5 L744.0,98.8 L742.6,98.1 L743.4,97.4 L743.9,96.7 L742.7,95.9 L744.1,95.3 L743.1,94.5 L744.4,93.9 L743.5,93.1 L744.4,92.5 L743.3,91.7 L743.9,91.0 L743.5,91.7 L744.7,92.4 L743.5,93.2 L744.5,93.8 L743.5,94.6 L744.8,95.2 L743.8,96.0 L744.6,96.7 L743.7,97.4 L744.8,98.1 L743.5,98.8 L744.7,99.5 L743.6,100.3 L744.8,100.9 L743.8,101.7 L744.8,102.4 L743.9,103.1 L745.3,103.8 L744.5,104.5 L745.1,103.8 L743.9,103.0 L745.0,102.3 L744.2,101.5 L745.1,100.8 L744.1,100.1 L745.3,99.4 L744.1,98.6 L745.0,97.9 L744.1,97.1 L745.6,96.4 L744.3,95.7 L745.2,95.0 L744.5,94.2 L745.2,93.5 L744.6,92.7 L745.0,92.0 L744.3,92.7 L745.7,93.4 L744.5,94.1 L745.8,94.8 L744.5,95.5 L745.8,96.2 L744.7,96.9 L745.9,97.6 L744.7,98.3 L746.0,99.0 L744.8,99.7 L745.8,100.4 L744.9,101.1 L746.1,101.8 L745.6,102.5 L746.3,101.8 L745.4,101.1 L746.0,100.4 L745.4,99.6 L746.4,99.0 L745.0,98.2 L746.4,97.5 L745.4,96.8 L746.6,96.1 L745.2,95.3 L746.5,94.7 L745.6,93.9 L746.4,93.2 L746.0,92.5 L746.5,93.2 L745.7,94.0 L746.6,94.6 L745.6,95.5 L747.0,96.1 L746.0,96.9 L746.9,97.5 L746.2,98.3 L746.8,99.0 L745.9,99.8 L746.6,100.5 L746.1,99.7 L747.5,99.1 L746.3,98.2 L747.1,97.5 L746.4,96.7 L747.5,96.0 L746.2,95.2 L747.8,94.6 L746.5,93.7 L747.1,93.0 L746.7,93.8 L747.5,94.4 L746.7,95.2 L747.8,95.8 L747.1,96.6 L747.8,97.3 L747.6,98.0 L747.9,97.3 L747.2,96.5 L748.2,95.9 L747.2,95.1 L748.3,94.5 L747.4,93.7 L748.2,93.1 L748.7,92.5 L748.3,91.7 L749.3,91.2 L748.5,90.3 L749.6,89.8 L748.8,88.9 L749.3,88.3 L749.3,89.2 L750.9,89.3 L749.5,90.9 L751.7,90.7 L750.2,92.3 L751.4,92.6 L751.9,93.4 L751.2,94.5 L752.0,95.3 L751.6,93.9 L753.8,94.9 L752.5,92.6 L754.6,93.7 L754.6,92.6 L756.4,92.5 L755.7,94.2 L756.5,93.6 L755.7,92.7 L756.4,92.0 L755.7,91.1 L757.1,90.6 L756.2,89.7 L757.1,89.1 L756.8,88.3 L758.0,88.5 L757.1,89.8 L758.7,89.7 L757.6,91.2 L758.9,91.3 L758.9,92.1 L758.8,93.0 L760.2,93.0 L759.5,94.3 L761.0,94.2 L760.4,95.4 L761.1,95.8 L761.9,95.4 L762.7,96.2 L763.5,95.5 L764.3,96.0 L784.6,96.1 L785.6,95.8 L786.2,95.0 L791.0,95.0 L791.6,94.3 L792.6,94.1 L792.6,94.9 L793.4,95.3 L792.9,96.3 L793.8,96.7 L793.7,97.5 L794.6,97.7 L794.9,96.4 L795.9,96.8 L796.4,96.2 L796.6,95.1 L798.0,96.1 L798.0,94.4 L799.0,94.8 L799.0,95.6 L799.9,96.1 L799.3,97.2 L800.1,97.7 L800.5,96.7 L801.8,97.2 L802.2,96.3 L803.2,96.5 L803.5,97.6 L804.4,97.7 L804.9,97.0 L805.9,97.4 L806.3,96.5 L807.1,96.6 L811.4,95.9 L811.8,96.6 L812.9,96.3 L813.3,97.1 L814.1,96.7 L813.8,95.7 L814.5,95.3 L814.5,94.4 L815.1,93.9 L815.5,94.9 L816.9,93.9 L817.2,95.0 L818.8,95.1 L816.9,92.9 L819.0,93.4 L817.8,91.7 L819.4,91.8 L818.8,92.9 L821.0,92.6 L819.6,94.1 L821.2,94.1 L821.0,95.0 L821.8,94.4 L820.5,93.5 L821.9,92.9 L820.6,92.0 L821.9,91.5 L821.3,90.7 L822.2,90.1 L821.1,89.2 L822.2,88.6 L821.3,87.7 L822.8,87.2 L822.1,86.4 L821.8,85.6 L822.8,85.0 L821.6,84.2 L822.8,83.5 L822.0,82.7 L822.8,82.1 L821.8,81.3 L823.1,80.6 L822.0,79.8 L822.9,79.1 L822.6,78.4 L822.6,76.7 L824.2,77.3 L825.2,78.4 L825.5,76.2 L826.4,76.8 L825.9,77.6 L827.3,78.1 L825.9,79.0 L827.3,79.6 L826.3,80.4 L826.9,81.1 L826.7,80.2 L827.8,80.0 L827.6,79.0 L828.5,78.7 L828.5,77.9 L829.3,78.3 L828.9,79.4 L829.6,79.8 L834.9,80.0 L835.4,79.1 L836.5,78.9 L836.5,79.7 L837.4,80.1 L837.1,81.0 L837.6,81.6 L837.9,80.8 L839.1,80.6 L839.0,79.6 L839.5,80.2 L839.5,81.0" fill="none" stroke="#1f77b4" stroke-width="2.92" stroke-linejoin="round" stroke-linecap="square"/>
<path d="M134,590 v6.8 M232,590 v6.8 M330,590 v6.8 M428,590 v6.8 M526,590 v6.8 M624,590 v6.8 M722,590 v6.8 M820,590 v6.8 M99,72 h-6.8 M99,143 h-6.8 M99,213 h-6.8 M99,284 h-6.8 M99,354 h-6.8 M99,425 h-6.8 M99,495 h-6.8 M99,566 h-6.8" fill="none" stroke="#000" stroke-width="1.556"/>
<rect x="99" y="52" width="776" height="538" fill="none" stroke="#000" stroke-width="1.556" stroke-linejoin="miter"/>
<text x="134" y="619.4" font-size="19.444" text-anchor="middle" style="letter-spacing:-0.25px">0</text>
<text x="232" y="619.4" font-size="19.444" text-anchor="middle" style="letter-spacing:-0.25px">2000</text>
<text x="330" y="619.4" font-size="19.444" text-anchor="middle" style="letter-spacing:-0.25px">4000</text>
<text x="428" y="619.4" font-size="19.444" text-anchor="middle" style="letter-spacing:-0.25px">6000</text>
<text x="526" y="619.4" font-size="19.444" text-anchor="middle" style="letter-spacing:-0.25px">8000</text>
<text x="624" y="619.4" font-size="19.444" text-anchor="middle" style="letter-spacing:-0.25px">10000</text>
<text x="722" y="619.4" font-size="19.444" text-anchor="middle" style="letter-spacing:-0.25px">12000</text>
<text x="820" y="619.4" font-size="19.444" text-anchor="middle" style="letter-spacing:-0.25px">14000</text>
<text x="85.1" y="80" font-size="19.444" text-anchor="end" style="letter-spacing:-0.3px">240</text>
<text x="85.1" y="150" font-size="19.444" text-anchor="end" style="letter-spacing:-0.3px">220</text>
<text x="85.1" y="221" font-size="19.444" text-anchor="end" style="letter-spacing:-0.3px">200</text>
<text x="85.1" y="291.4" font-size="19.444" text-anchor="end" style="letter-spacing:-0.3px">180</text>
<text x="85.1" y="362" font-size="19.444" text-anchor="end" style="letter-spacing:-0.3px">160</text>
<text x="85.1" y="432" font-size="19.444" text-anchor="end" style="letter-spacing:-0.3px">140</text>
<text x="85.1" y="503" font-size="19.444" text-anchor="end" style="letter-spacing:-0.3px">120</text>
<text x="85.1" y="573.6" font-size="19.444" text-anchor="end" style="letter-spacing:-0.3px">100</text>
<text x="487" y="40.5" font-size="23.333" text-anchor="middle">Equity vs Trade #</text>
<text x="487.3" y="646.3" font-size="19.444" text-anchor="middle">Trade #</text>
<text transform="translate(37.5,323.9) rotate(-90)" font-size="19.444" text-anchor="middle">Equity</text>
<rect x="109.4" y="62.3" width="438.7" height="36" rx="3.9" ry="3.9" fill="#fff" fill-opacity="0.8" stroke="#cccccc" stroke-opacity="0.8" stroke-width="1.944"/>
<path d="M117.5,78.6 H155.4" fill="none" stroke="#1f77b4" stroke-width="2.92" stroke-linecap="square"/>
<text x="171" y="85.5" font-size="19.444" style="letter-spacing:0.025px">cfg_merged.yaml | TF: ? | bars: 14400</text>
</svg></body></html>
